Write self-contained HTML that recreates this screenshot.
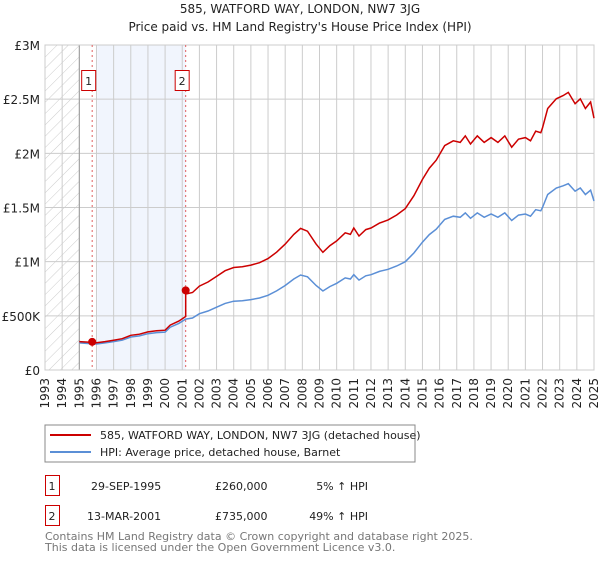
<!DOCTYPE html>
<html><head><meta charset="utf-8"><style>
body{margin:0;background:#fff;font-family:"Liberation Sans","DejaVu Sans",sans-serif;}
svg text{font-family:"DejaVu Sans","Liberation Sans",sans-serif;}
</style></head><body>
<svg id="c" width="600" height="560" xmlns="http://www.w3.org/2000/svg">
<defs><pattern id="hatch" width="8" height="8" patternUnits="userSpaceOnUse" patternTransform="rotate(45)"><line x1="0" y1="0" x2="0" y2="8" stroke="#ccc" stroke-width="1"/></pattern></defs>
<text x="300" y="13" text-anchor="middle" font-size="12" fill="#222">585, WATFORD WAY, LONDON, NW7 3JG</text>
<text x="300" y="31" text-anchor="middle" font-size="12" fill="#222">Price paid vs. HM Land Registry's House Price Index (HPI)</text>
<g id="plot"></g>
<rect x="45" y="425" width="370" height="37" fill="#fff" stroke="#888"/>
<line x1="50" y1="435" x2="91" y2="435" stroke="#cc0000" stroke-width="2"/>
<text x="100" y="439" font-size="11" fill="#222">585, WATFORD WAY, LONDON, NW7 3JG (detached house)</text>
<line x1="50" y1="452" x2="91" y2="452" stroke="#5b8fd6" stroke-width="2"/>
<text x="100" y="456" font-size="11" fill="#222">HPI: Average price, detached house, Barnet</text>
<g font-size="11" fill="#222">
<rect x="45.5" y="475.5" width="14" height="20" fill="none" stroke="#cc0000"/>
<text x="52" y="490" text-anchor="middle">1</text>
<text x="91" y="490">29-SEP-1995</text>
<text x="215" y="490">£260,000</text>
<text x="368" y="490" text-anchor="end">5% ↑ HPI</text>
<rect x="45.5" y="505.5" width="14" height="20" fill="none" stroke="#cc0000"/>
<text x="52" y="520" text-anchor="middle">2</text>
<text x="87" y="520">13-MAR-2001</text>
<text x="215" y="520">£735,000</text>
<text x="368" y="520" text-anchor="end">49% ↑ HPI</text>
</g>
<text x="45" y="540" font-size="11" fill="#777">Contains HM Land Registry data © Crown copyright and database right 2025.</text>
<text x="45" y="551" font-size="11" fill="#777">This data is licensed under the Open Government Licence v3.0.</text>
</svg>
<script>
const hpiYears=[1995.0,1995.5,1996,1996.5,1997,1997.5,1998,1998.5,1999,1999.5,2000,2000.3,2000.8,2001.2,2001.6,2002,2002.5,2003,2003.5,2004,2004.5,2005,2005.5,2006,2006.5,2007,2007.5,2007.9,2008.3,2008.8,2009.2,2009.6,2010,2010.5,2010.8,2011,2011.3,2011.7,2012,2012.5,2013,2013.5,2014,2014.5,2015,2015.4,2015.8,2016.3,2016.8,2017.2,2017.5,2017.8,2018.2,2018.6,2019,2019.4,2019.8,2020.2,2020.6,2021,2021.3,2021.6,2021.9,2022,2022.3,2022.8,2023.2,2023.5,2023.9,2024.2,2024.5,2024.8,2025];
const hpiValues=[250,245,240,250,262,275,305,315,335,345,350,395,430,470,480,520,545,580,615,635,640,650,665,690,730,780,840,877,860,780,729,770,800,850,840,880,830,870,880,910,930,960,1000,1080,1180,1250,1300,1390,1420,1410,1450,1400,1450,1410,1440,1410,1450,1380,1430,1440,1420,1480,1470,1500,1620,1680,1700,1720,1650,1680,1620,1660,1560];
const saleYears=[1995.75,2001.2];
const salePrices=[260,735];
const saleRatios=[1.05,1.49];
const yTicks=[0,500,1000,1500,2000,2500,3000];
const yTickLabels=["£0","£500K","£1M","£1.5M","£2M","£2.5M","£3M"];
const xTickYears=[];for(let y=1993;y<=2025;y++)xTickYears.push(y);

const X0=45,X1=594,Y0=370,Y1=45;
const xs=y=>X0+(y-1993)/(2025-1993)*(X1-X0);
const ys=v=>Y0-v/3000*(Y0-Y1);
const NS="http://www.w3.org/2000/svg";
const g=document.getElementById('plot');
function mk(t,a){const e=document.createElementNS(NS,t);for(const k in a)e.setAttribute(k,a[k]);g.appendChild(e);return e;}

let e=mk('rect',{x:X0,y:Y1,width:xs(1995)-X0,height:Y0-Y1,fill:'url(#hatch)'});


e=mk('rect',{x:xs(saleYears[0])+5,y:Y1,width:xs(saleYears[1])-xs(saleYears[0])-5,height:Y0-Y1,fill:'#eef3fc',opacity:0.8});


xTickYears.forEach(y=>{
 const l=mk('line',{x1:xs(y),x2:xs(y),y1:Y1,y2:Y0,stroke:'#ccc','stroke-width':1});
 
 
 const t=mk('text',{x:0,y:0,'font-size':12,fill:'#222','text-anchor':'end',transform:`translate(${xs(y)+4},378) rotate(-90)`});
 t.textContent=y;
 
 
});
yTicks.forEach((v,i)=>{
 const l=mk('line',{x1:X0,x2:X1,y1:ys(v),y2:ys(v),stroke:'#ccc','stroke-width':1});
 
 
 const t=mk('text',{x:40,y:ys(v)+5,'font-size':12,fill:'#222','text-anchor':'end'});
 t.textContent=yTickLabels[i];
 
 
});
e=mk('line',{x1:xs(1995),x2:xs(1995),y1:Y1,y2:Y0,stroke:'#999'});


e=mk('rect',{x:X0,y:Y1,width:X1-X0,height:Y0-Y1,fill:'none',stroke:'#ccc'});


saleYears.forEach((sy,i)=>{
 const l=mk('line',{x1:xs(sy),x2:xs(sy),y1:Y1,y2:Y0,stroke:'#e06060','stroke-dasharray':'2,3','stroke-width':1});
 
 
 const r=mk('rect',{x:xs(sy)-10.5,y:70.5,width:14,height:20,fill:'#fff',stroke:'#cc0000'});
 
 
 const t=mk('text',{x:xs(sy)-3.5,y:85,'font-size':11,fill:'#222','text-anchor':'middle'});
 t.textContent=i+1;
 
 
});
const hp=hpiYears.map((y,i)=>`${xs(y).toFixed(1)},${ys(hpiValues[i]).toFixed(1)}`).join(' ');
e=mk('polyline',{points:hp,fill:'none',stroke:'#5b8fd6','stroke-width':1.5});


const rp=[];
hpiYears.forEach((y,i)=>{
 if(y>=saleYears[1]&&rp.length&&hpiYears[i-1]<saleYears[1]){
  const hv=hpiValues[i-1]+(hpiValues[i]-hpiValues[i-1])*(saleYears[1]-hpiYears[i-1])/(y-hpiYears[i-1]);
  rp.push([saleYears[1],hv*saleRatios[0]]);rp.push([saleYears[1],salePrices[1]]);
 }
 rp.push([y,hpiValues[i]*(y<saleYears[1]?saleRatios[0]:saleRatios[1])]);
});
e=mk('polyline',{points:rp.map(p=>`${xs(p[0]).toFixed(1)},${ys(p[1]).toFixed(1)}`).join(' '),fill:'none',stroke:'#cc0000','stroke-width':1.5});


saleYears.forEach((sy,i)=>{
 const c=mk('circle',{cx:xs(sy),cy:ys(salePrices[i]),r:4,fill:'#cc0000'});
 
 
});
</script>
</body></html>
